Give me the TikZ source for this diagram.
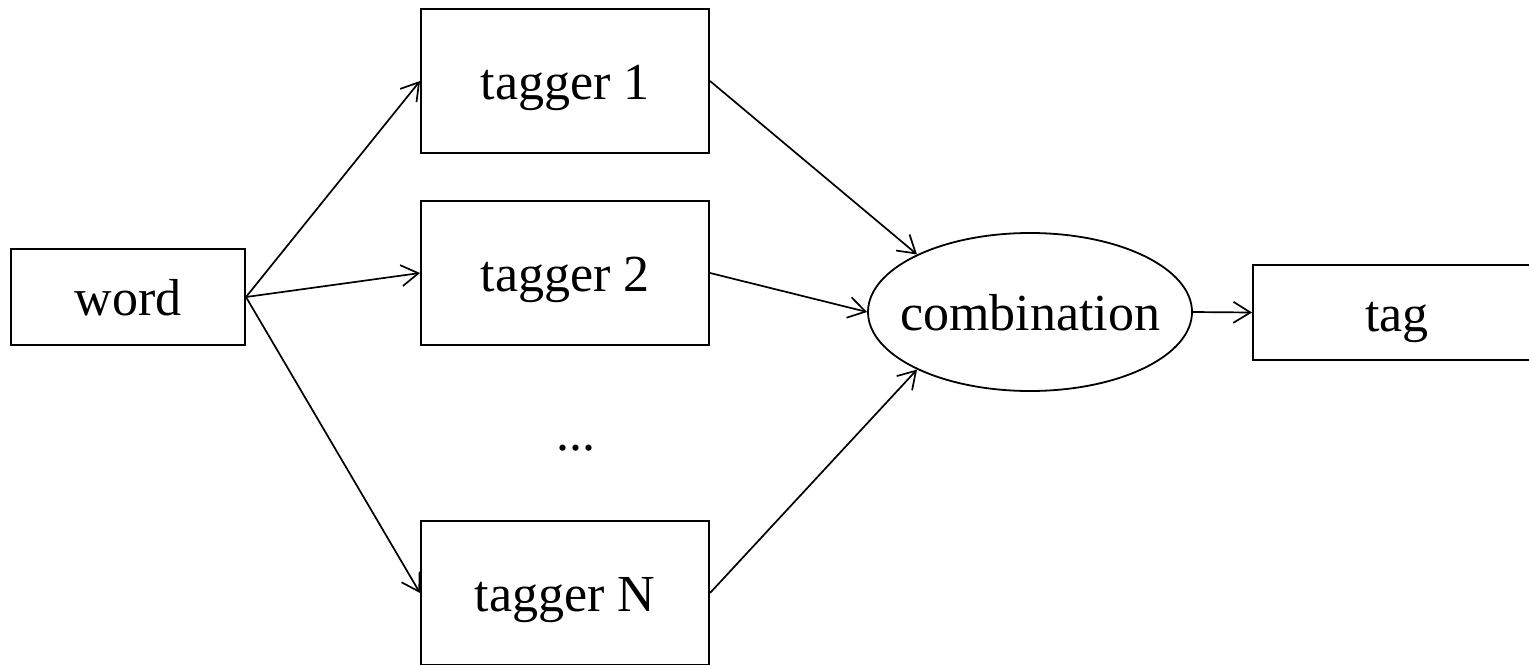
\documentclass[tikz,border=0pt]{standalone}
\usepackage{fontspec}
\setmainfont{Liberation Serif}
\usetikzlibrary{arrows.meta,shapes.geometric}
\begin{document}
\begin{tikzpicture}[x=0.5pt,y=-0.5pt,
  lbl/.style={font=\fontsize{26}{31}\selectfont, text height=18.5pt, text depth=0pt},
  box/.style={lbl, draw, line width=1pt, inner sep=0pt, minimum width=144pt, minimum height=72pt},
  smallbox/.style={box, minimum width=117pt, minimum height=48pt},
  oval/.style={lbl, draw, ellipse, line width=0.9pt, inner sep=0pt, minimum width=162pt, minimum height=79pt},
  link/.style={line width=0.85pt, -{Straight Barb[length=8.5pt,width=10.5pt,line width=0.85pt]}}]
  \useasboundingbox (0,0) rectangle (1529,664);
  \clip (0,0) rectangle (1529,664);

  % input word and the individual taggers
  \node[smallbox] (word) at (128,297) {word};
  \node[box] (t1) at (565,81) {tagger 1};
  \node[box] (t2) at (565,273) {tagger 2};
  \node[font=\fontsize{26}{31}\selectfont, anchor=base] (dots) at (576,450) {...};
  \node[box] (tN) at (565,593) {tagger N};

  % combining step and final output
  \node[oval] (comb) at (1030,312) {\makebox[0pt]{combination}};
  \node[box, minimum height=47.5pt] (tag) at (1397,312.5) {tag};

  % connectors
  \draw[link] (word.east) -- (t1.west);
  \draw[link] (word.east) -- (t2.west);
  \draw[link] (word.east) -- (tN.west);
  \draw[link] (t1.east) -- (comb.153);
  \draw[link] (t2.east) -- (comb.west);
  \draw[link] (tN.east) -- (comb.207);
  \draw[link] (comb.east) -- (tag.west);
\end{tikzpicture}
\end{document}
